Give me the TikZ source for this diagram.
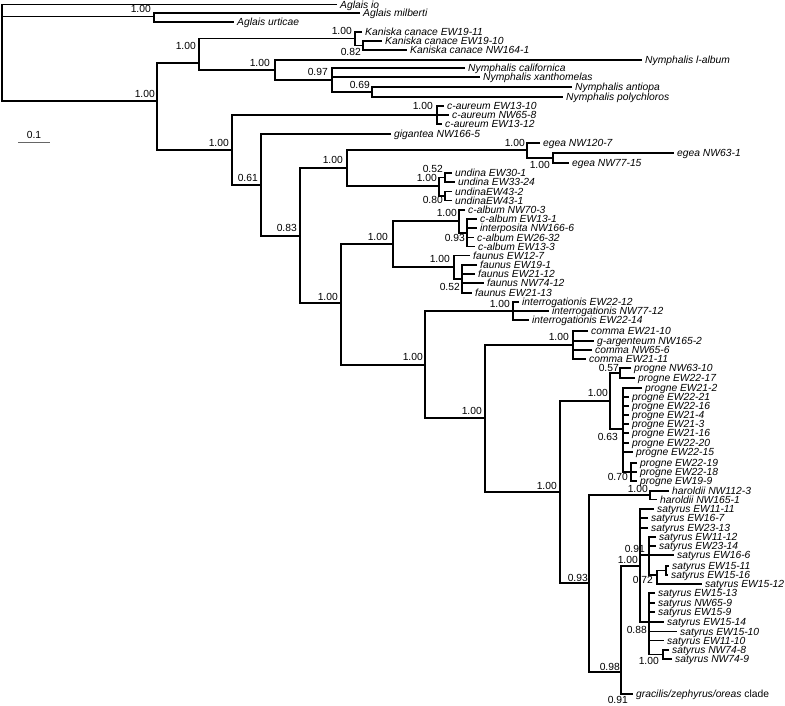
\documentclass[tikz,border=0pt]{standalone}
\usepackage{fontspec}
\setmainfont{Liberation Sans}
\begin{document}
\begin{tikzpicture}[x=1pt,y=-1pt,
  leaf/.style={anchor=west,inner xsep=3pt,inner ysep=0pt,text height=7.5pt,text depth=0.5pt,font=\fontsize{10.3}{12}\selectfont\itshape},
  supp/.style={anchor=east,inner sep=0pt,text height=7.5pt,text depth=0.5pt,font=\fontsize{10.3}{12}\selectfont},
  br/.style={line width=1.2pt,line join=miter}]
\useasboundingbox (0,0) rectangle (785,705);
% internal nodes
\coordinate (r) at (2,55);
\coordinate (A) at (154,16.5);
\coordinate (B) at (157,101);
\coordinate (C) at (199,63);
\coordinate (K) at (355,38.75);
\coordinate (K2) at (363,45.5);
\coordinate (D) at (275,70);
\coordinate (E) at (332,80);
\coordinate (F) at (372,92);
\coordinate (G) at (232,150);
\coordinate (CAU) at (437,115);
\coordinate (H) at (261,185);
\coordinate (I) at (300,236);
\coordinate (J) at (347,168);
\coordinate (EG) at (527,150);
\coordinate (EG2) at (553,158);
\coordinate (U) at (439,186);
\coordinate (U1) at (445,177.5);
\coordinate (U2) at (445,196);
\coordinate (L) at (341,303);
\coordinate (M) at (393,244);
\coordinate (CA) at (459,221);
\coordinate (CA2) at (467,233);
\coordinate (F2) at (454,267);
\coordinate (F3) at (462,279);
\coordinate (N) at (425,365);
\coordinate (IN) at (513,311);
\coordinate (O) at (485,418);
\coordinate (CO) at (573,345);
\coordinate (P) at (560,492);
\coordinate (PR) at (610,401);
\coordinate (PR1) at (620,373);
\coordinate (PR2) at (623,429);
\coordinate (PR3) at (631,472);
\coordinate (Q) at (589,583);
\coordinate (HA) at (650,495);
\coordinate (R) at (621,672);
\coordinate (S) at (640,566);
\coordinate (S2) at (649,555);
\coordinate (S4) at (657,575);
\coordinate (S5) at (666,570.5);
\coordinate (S7) at (649,622);
\coordinate (S8) at (663,654.5);
% leaves
\node[leaf] (io) at (337,4.5) {Aglais io};
\node[leaf] (mil) at (360,13) {Aglais milberti};
\node[leaf] (urt) at (234,22) {Aglais urticae};
\node[leaf] (kc1) at (362,32) {Kaniska canace EW19-11};
\node[leaf] (kc2) at (382,41) {Kaniska canace EW19-10};
\node[leaf] (kc3) at (407,50) {Kaniska canace NW164-1};
\node[leaf] (lal) at (642,60) {Nymphalis l-album};
\node[leaf] (cal) at (465,68) {Nymphalis californica};
\node[leaf] (xan) at (480,77) {Nymphalis xanthomelas};
\node[leaf] (ant) at (572,87) {Nymphalis antiopa};
\node[leaf] (pol) at (563,97) {Nymphalis polychloros};
\node[leaf] (ca1) at (444,106) {c-aureum EW13-10};
\node[leaf] (ca2) at (449,115) {c-aureum NW65-8};
\node[leaf] (ca3) at (442,124) {c-aureum EW13-12};
\node[leaf] (gig) at (391,134) {gigantea NW166-5};
\node[leaf] (eg1) at (540,143) {egea NW120-7};
\node[leaf] (eg2) at (674,153) {egea NW63-1};
\node[leaf] (eg3) at (569,163) {egea NW77-15};
\node[leaf] (un1) at (452,173) {undina EW30-1};
\node[leaf] (un2) at (455,182) {undina EW33-24};
\node[leaf] (un3) at (452,191.5) {undinaEW43-2};
\node[leaf] (un4) at (452,200.5) {undinaEW43-1};
\node[leaf] (cb1) at (465,210) {c-album NW70-3};
\node[leaf] (cb2) at (477,219) {c-album EW13-1};
\node[leaf] (cb3) at (477,228) {interposita NW166-6};
\node[leaf] (cb4) at (474,237.5) {c-album EW26-32};
\node[leaf] (cb5) at (475,246.5) {c-album EW13-3};
\node[leaf] (fa1) at (470,255.5) {faunus EW12-7};
\node[leaf] (fa2) at (477,265) {faunus EW19-1};
\node[leaf] (fa3) at (475,274) {faunus EW21-12};
\node[leaf] (fa4) at (484,283) {faunus NW74-12};
\node[leaf] (fa5) at (472,293) {faunus EW21-13};
\node[leaf] (in1) at (519,302) {interrogationis EW22-12};
\node[leaf] (in2) at (549,311) {interrogationis NW77-12};
\node[leaf] (in3) at (529,320) {interrogationis EW22-14};
\node[leaf] (co1) at (588,331) {comma EW21-10};
\node[leaf] (co2) at (594,341) {g-argenteum NW165-2};
\node[leaf] (co3) at (592,350) {comma NW65-6};
\node[leaf] (co4) at (586,359) {comma EW21-11};
\node[leaf] (pg1) at (631,368) {progne NW63-10};
\node[leaf] (pg2) at (635,378) {progne EW22-17};
\node[leaf] (pg3) at (642,388) {progne EW21-2};
\node[leaf] (pg4) at (629,397) {progne EW22-21};
\node[leaf] (pg5) at (629,406) {progne EW22-16};
\node[leaf] (pg6) at (629,415) {progne EW21-4};
\node[leaf] (pg7) at (629,424) {progne EW21-3};
\node[leaf] (pg8) at (629,433) {progne EW21-16};
\node[leaf] (pg9) at (629,443) {progne EW22-20};
\node[leaf] (pg10) at (633,452) {progne EW22-15};
\node[leaf] (pg11) at (637,463) {progne EW22-19};
\node[leaf] (pg12) at (637,472) {progne EW22-18};
\node[leaf] (pg13) at (637,481) {progne EW19-9};
\node[leaf] (ha1) at (669,491) {haroldii NW112-3};
\node[leaf] (ha2) at (657,499.5) {haroldii NW165-1};
\node[leaf] (sa1) at (654,509) {satyrus EW11-11};
\node[leaf] (sa2) at (648,518) {satyrus EW16-7};
\node[leaf] (sa3) at (648,528) {satyrus EW23-13};
\node[leaf] (sa4) at (656,537) {satyrus EW11-12};
\node[leaf] (sa5) at (656,546) {satyrus EW23-14};
\node[leaf] (sa6) at (674,555) {satyrus EW16-6};
\node[leaf] (sa7) at (669,566) {satyrus EW15-11};
\node[leaf] (sa8) at (668,575) {satyrus EW15-16};
\node[leaf] (sa9) at (702,584) {satyrus EW15-12};
\node[leaf] (sa10) at (655,593) {satyrus EW15-13};
\node[leaf] (sa11) at (655,603) {satyrus NW65-9};
\node[leaf] (sa12) at (655,612) {satyrus EW15-9};
\node[leaf] (sa13) at (664,622) {satyrus EW15-14};
\node[leaf] (sa14) at (677,631.5) {satyrus EW15-10};
\node[leaf] (sa15) at (664,640.5) {satyrus EW11-10};
\node[leaf] (sa16) at (669,650) {satyrus NW74-8};
\node[leaf] (sa17) at (672,659) {satyrus NW74-9};
\node[leaf] (gra) at (633,694) {gracilis/zephyrus/oreas {\upshape clade}};
% branches
\draw[br] (io.west) -| (r) |- (B);
\draw[br] (r |- A) -- (A);
\draw[br] (mil.west) -| (A) |- (urt.west);
\draw[br] (C) -| (B) |- (G);
\draw[br] (K) -| (C) |- (D);
\draw[br] (kc1.west) -| (K) |- (K2);
\draw[br] (kc2.west) -| (K2) |- (kc3.west);
\draw[br] (lal.west) -| (D) |- (E);
\draw[br] (cal.west) -| (E) |- (F);
\draw[br] (E |- xan.west) -- (xan.west);
\draw[br] (ant.west) -| (F) |- (pol.west);
\draw[br] (CAU) -| (G) |- (H);
\draw[br] (ca1.west) -| (CAU) |- (ca3.west);
\draw[br] (CAU |- ca2.west) -- (ca2.west);
\draw[br] (gig.west) -| (H) |- (I);
\draw[br] (J) -| (I) |- (L);
\draw[br] (EG) -| (J) |- (U);
\draw[br] (eg1.west) -| (EG) |- (EG2);
\draw[br] (eg2.west) -| (EG2) |- (eg3.west);
\draw[br] (U1) -| (U) |- (U2);
\draw[br] (un1.west) -| (U1) |- (un2.west);
\draw[br] (un3.west) -| (U2) |- (un4.west);
\draw[br] (M) -| (L) |- (N);
\draw[br] (CA) -| (M) |- (F2);
\draw[br] (cb1.west) -| (CA) |- (CA2);
\draw[br] (cb2.west) -| (CA2) |- (cb5.west);
\foreach \n in {cb3,cb4} \draw[br] (CA2 |- \n.west) -- (\n.west);
\draw[br] (fa1.west) -| (F2) |- (F3);
\draw[br] (fa2.west) -| (F3) |- (fa5.west);
\foreach \n in {fa3,fa4} \draw[br] (F3 |- \n.west) -- (\n.west);
\draw[br] (IN) -| (N) |- (O);
\draw[br] (in1.west) -| (IN) |- (in3.west);
\draw[br] (IN) -- (in2.west);
\draw[br] (CO) -| (O) |- (P);
\draw[br] (co1.west) -| (CO) |- (co4.west);
\foreach \n in {co2,co3} \draw[br] (CO |- \n.west) -- (\n.west);
\draw[br] (PR) -| (P) |- (Q);
\draw[br] (PR1) -| (PR) |- (PR2);
\draw[br] (pg1.west) -| (PR1) |- (pg2.west);
\draw[br] (pg3.west) -| (PR2) |- (PR3);
\foreach \n in {pg4,pg5,pg6,pg7,pg8,pg9,pg10} \draw[br] (PR2 |- \n.west) -- (\n.west);
\draw[br] (pg11.west) -| (PR3) |- (pg13.west);
\draw[br] (PR3 |- pg12.west) -- (pg12.west);
\draw[br] (HA) -| (Q) |- (R);
\draw[br] (ha1.west) -| (HA) |- (ha2.west);
\draw[br] (S) -| (R) |- (gra.west);
\draw[br] (sa1.west) -| (S) |- (S7);
\foreach \n in {sa2,sa3} \draw[br] (S |- \n.west) -- (\n.west);
\draw[br] (S |- S2) -- (S2);
\draw[br] (sa4.west) -| (S2) |- (S4);
\foreach \n in {sa5,sa6} \draw[br] (S2 |- \n.west) -- (\n.west);
\draw[br] (S5) -| (S4) |- (sa9.west);
\draw[br] (sa7.west) -| (S5) |- (sa8.west);
\draw[br] (sa10.west) -| (S7) |- (S8);
\foreach \n in {sa11,sa12,sa13,sa14,sa15} \draw[br] (S7 |- \n.west) -- (\n.west);
\draw[br] (sa16.west) -| (S8) |- (sa17.west);
% support values
\node[supp] (b1) at (151,9) {1.00};
\node[supp] (b2) at (155,94) {1.00};
\node[supp] (b3) at (196,46) {1.00};
\node[supp] (b4) at (352,31) {1.00};
\node[supp] (b5) at (361,52) {0.82};
\node[supp] (b6) at (270,63) {1.00};
\node[supp] (b7) at (328,72) {0.97};
\node[supp] (b8) at (370,85) {0.69};
\node[supp] (b9) at (229,143) {1.00};
\node[supp] (b10) at (433,106) {1.00};
\node[supp] (b11) at (258,178) {0.61};
\node[supp] (b12) at (297,228) {0.83};
\node[supp] (b13) at (343,160) {1.00};
\node[supp] (b14) at (338,297) {1.00};
\node[supp] (b15) at (525,143) {1.00};
\node[supp] (b16) at (550,165) {1.00};
\node[supp] (b17) at (437,178) {1.00};
\node[supp] (b18) at (443,169) {0.52};
\node[supp] (b19) at (443,200) {0.80};
\node[supp] (b20) at (388,237) {1.00};
\node[supp] (b21) at (457,213) {1.00};
\node[supp] (b22) at (465,238) {0.93};
\node[supp] (b23) at (450,259) {1.00};
\node[supp] (b24) at (460,287) {0.52};
\node[supp] (b25) at (423,357) {1.00};
\node[supp] (b26) at (510,304) {1.00};
\node[supp] (b27) at (482,411) {1.00};
\node[supp] (b28) at (569,337) {1.00};
\node[supp] (b29) at (557,486) {1.00};
\node[supp] (b30) at (608,393) {1.00};
\node[supp] (b31) at (619,368) {0.57};
\node[supp] (b32) at (618,437) {0.63};
\node[supp] (b33) at (628,477) {0.70};
\node[supp] (b34) at (588,578) {0.93};
\node[supp] (b35) at (648,489) {1.00};
\node[supp] (b36) at (620,667) {0.98};
\node[supp] (b37) at (638,560) {1.00};
\node[supp] (b38) at (645,549) {0.91};
\node[supp] (b39) at (653,580) {0.72};
\node[supp] (b40) at (647,630) {0.88};
\node[supp] (b41) at (659,661) {1.00};
\node[supp] (b42) at (628,699.5) {0.91};
% scale bar
\coordinate (sb1) at (18,142);
\coordinate (sb2) at (50,142);
\draw[line width=0.8pt,black!60] (sb1) -- (sb2);
\node[anchor=center,inner sep=0pt,text height=7.5pt,text depth=0.5pt,font=\fontsize{10.3}{12}\selectfont] (sc) at (34,135) {0.1};
\end{tikzpicture}
\end{document}
